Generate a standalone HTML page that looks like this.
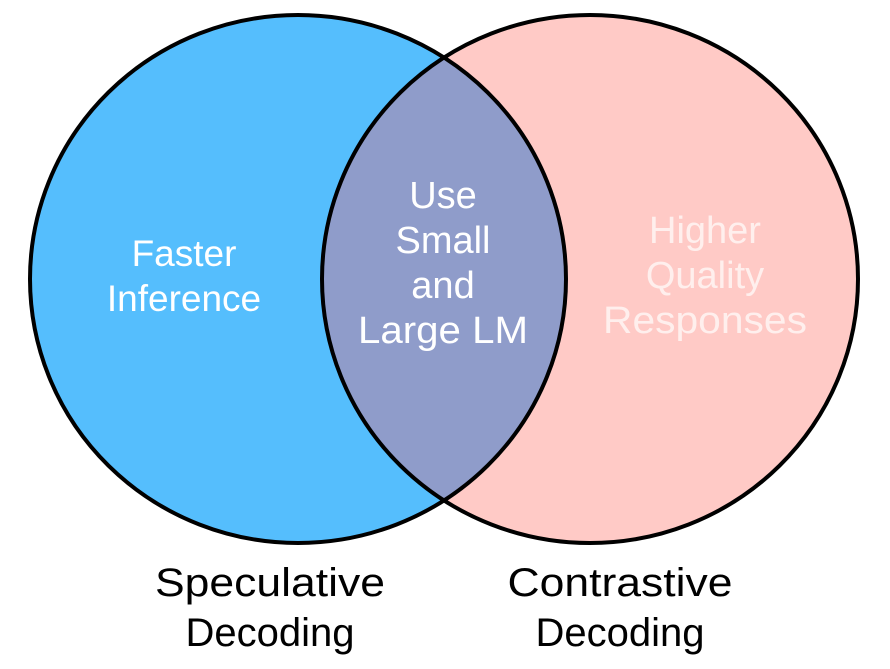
<!DOCTYPE html>
<html><head><style>body{margin:0;background:#fff}</style></head><body>
<svg width="890" height="664" xmlns="http://www.w3.org/2000/svg" font-family="Liberation Sans, sans-serif">
<defs><clipPath id="c"><ellipse cx="298" cy="279" rx="268" ry="264"/></clipPath></defs>
<ellipse cx="298" cy="279" rx="268" ry="264" fill="#55BEFD"/>
<ellipse cx="590" cy="279" rx="268" ry="264" fill="#FFCAC6"/>
<ellipse cx="590" cy="279" rx="268" ry="264" fill="#8F9CCA" clip-path="url(#c)"/>
<ellipse cx="298" cy="279" rx="268" ry="264" fill="none" stroke="#000" stroke-width="4"/>
<ellipse cx="590" cy="279" rx="268" ry="264" fill="none" stroke="#000" stroke-width="4"/>
<g fill="#fff" font-size="37" text-anchor="middle">
<text x="184" y="266">Faster</text><text x="184" y="311">Inference</text>
</g>
<g fill="#fff" font-size="38" text-anchor="middle">
<text x="443" y="208">Use</text><text x="443" y="253">Small</text><text x="443" y="298">and</text><text x="443" y="343" textLength="170" lengthAdjust="spacingAndGlyphs">Large LM</text>
</g>
<g fill="#FFEFED" font-size="38" text-anchor="middle">
<text x="705" y="243">Higher</text><text x="705" y="288">Quality</text><text x="705" y="333" textLength="204" lengthAdjust="spacingAndGlyphs">Responses</text>
</g>
<g fill="#000" font-size="40" text-anchor="middle">
<text x="270" y="596" textLength="230" lengthAdjust="spacingAndGlyphs">Speculative</text><text x="270" y="646">Decoding</text>
<text x="620" y="596" textLength="225" lengthAdjust="spacingAndGlyphs">Contrastive</text><text x="620" y="646">Decoding</text>
</g>
</svg>
</body></html>
